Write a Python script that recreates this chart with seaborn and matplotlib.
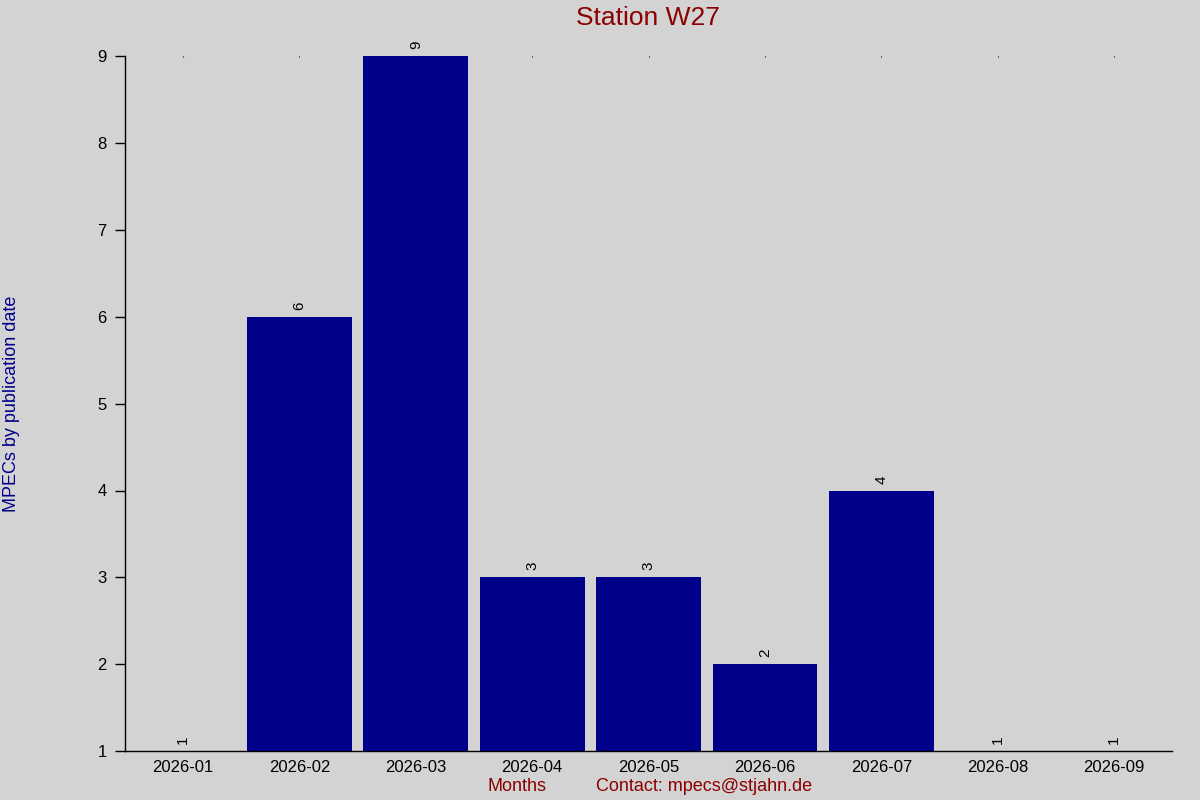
import matplotlib
matplotlib.use("Agg")
import matplotlib.pyplot as plt
import seaborn as sns
import pandas as pd

months = ["2026-01", "2026-02", "2026-03", "2026-04", "2026-05",
          "2026-06", "2026-07", "2026-08", "2026-09"]
counts = [1, 6, 9, 3, 3, 2, 4, 1, 1]

df = pd.DataFrame({"month": months, "mpecs": counts})

sns.set_style("white")
plt.rcParams["font.family"] = ["Liberation Sans", "DejaVu Sans"]

fig = plt.figure(figsize=(12, 8), dpi=100, facecolor="#d3d3d3")
ax = fig.add_axes([0.104, 0.061, 0.873, 0.869])
ax.set_facecolor("#d3d3d3")

sns.barplot(data=df, x="month", y="mpecs", color="#00008b", width=0.9,
            saturation=1, linewidth=0, edgecolor="none", ax=ax)
ax.bar_label(ax.containers[0], rotation=90, padding=5, fontsize=11,
             color="black")

ax.set_ylim(1, 9)
ax.set_xlim(-0.5, 8.5)
ax.set_yticks(range(1, 10))

for s in ["top", "right"]:
    ax.spines[s].set_visible(False)
for s in ["left", "bottom"]:
    ax.spines[s].set_color("black")
    ax.spines[s].set_linewidth(1)

ax.tick_params(axis="y", left=True, length=7, width=1, labelsize=12, pad=6,
               colors="black")
ax.tick_params(axis="x", bottom=False, top=True, direction="in", length=1,
               labelsize=12, pad=6, colors="black")

ax.set_xlabel("")
ax.set_ylabel("MPECs by publication date", color="#00008b", fontsize=13,
              labelpad=0)
ax.yaxis.set_label_coords(-0.1, 0.5)

fig.text(0.54, 0.977, "Station W27", ha="center", va="center",
         color="#8b0000", fontsize=19)
fig.text(0.431, 0.017, "Months", ha="center", va="center",
         color="#8b0000", fontsize=13)
fig.text(0.587, 0.017, "Contact: mpecs@stjahn.de", ha="center", va="center",
         color="#8b0000", fontsize=13)

fig.savefig("out.png", dpi=100, facecolor=fig.get_facecolor())
